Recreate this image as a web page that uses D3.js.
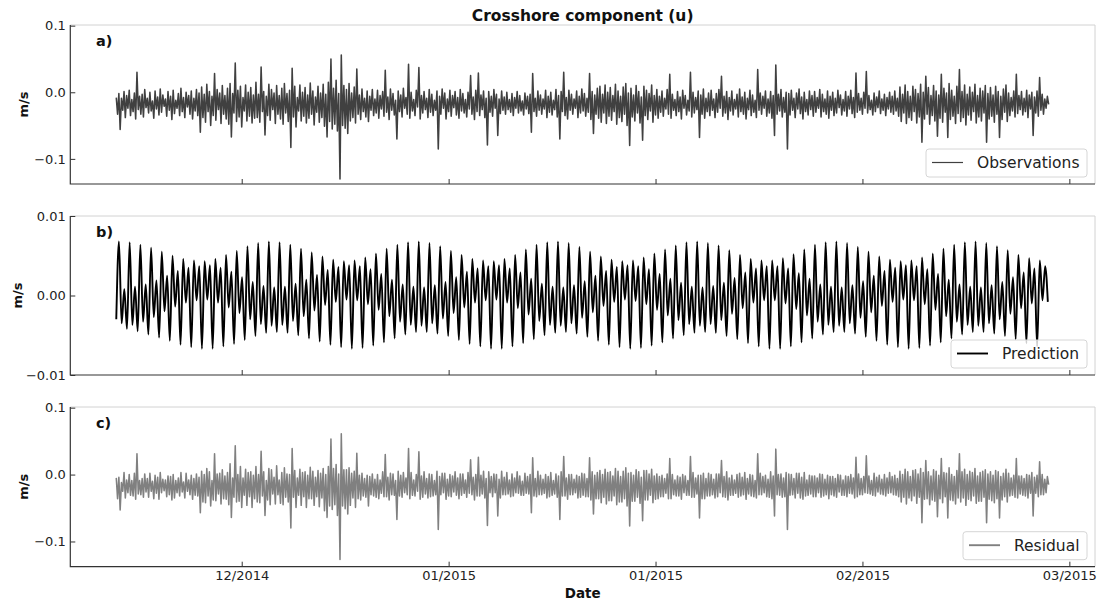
<!DOCTYPE html>
<html><head><meta charset="utf-8">
<script src="https://cdn.jsdelivr.net/npm/d3@7"></script>
<style>
body{margin:0;background:#fff;}
text{font-family:"DejaVu Sans",sans-serif;}
</style></head><body><svg id="chart" width="1102" height="604"></svg>
<script>
// ---------------- DATA ----------------
const chartTitle = "Crosshore component (u)";
const xLabel = "Date";
const yLabel = "m/s";
const seriesNames = ["Observations", "Prediction", "Residual"];
const panelLetters = ["a)", "b)", "c)"];

// observations / residual: samples every 3 h, in mm/s
const obsStart = "2014-11-29T21:00:00Z";
const obsStepHours = 3;
const observations = [
-8,-33,-2,-56,-9,-27,1,-38,-5,-24,3,-35,-11,-29,-1,-40,30,-26,-6,-33,
-3,-37,4,-23,-9,-31,0,-28,-13,-39,2,-25,-7,-34,5,-30,-4,-21,-10,-36,
1,-27,-6,-41,3,-32,-12,-24,-2,-35,6,-29,-8,-38,0,-22,-5,-33,2,-40,
-9,-28,4,-35,-1,-60,8,-38,-3,-45,12,-29,1,-50,-6,-35,28,-42,4,-26,
-1,-47,10,-33,-5,-40,6,-48,13,-67,-2,-31,44,-44,3,-37,9,-52,-8,-28,
11,-43,0,-36,7,-46,-4,-39,15,-38,-3,-45,38,-29,1,-64,-6,-35,12,-42,
4,-26,-1,-47,10,-33,-5,-40,6,-48,13,-31,-2,-44,3,-83,36,-37,9,-52,
-8,-28,11,-43,0,-36,7,-46,-4,-39,14,-33,2,-49,-7,-30,9,-45,-1,-38,
12,-51,-3,-67,15,-44,50,-55,6,-48,18,-58,-2,-130,56,-50,10,-54,4,-62,
13,-43,-1,-38,8,-46,35,-33,-4,-41,5,-29,-9,-37,2,-44,-6,-27,4,-35,
-10,-31,3,-39,-5,-25,1,-36,33,-30,-7,-41,5,-27,-2,-34,-12,-70,2,-29,
-4,-37,6,-24,-8,-33,42,-39,0,-28,-11,-35,3,-22,37,-40,-5,-31,1,-26,
-9,-38,4,-30,-3,-35,-12,-27,2,-85,-6,-33,5,-24,-1,-40,-10,-29,3,-36,
-5,-23,1,-34,-8,-39,4,-28,-2,-31,-11,-37,0,-25,25,-33,-7,-41,3,-29,
29,-35,-4,-26,2,-38,-9,-79,1,-30,-6,-36,4,-24,-3,-65,-10,-32,2,-27,
-7,-33,0,-26,-11,-30,-2,-35,-8,-24,1,-31,-5,-28,-13,-34,-1,-25,-6,-32,
-3,-60,28,-29,-9,-36,2,-27,-4,-33,-10,-25,3,-38,-6,-30,0,-34,-12,-26,
4,-37,-5,-70,1,-29,30,-35,-8,-40,3,-27,-3,-33,-10,-24,2,-38,-6,-31,
5,-28,-2,-36,-9,-30,28,-41,1,-62,-4,-33,6,-39,9,-45,-3,-31,11,-47,
0,-36,7,-42,-5,-29,12,-48,2,-38,-6,-44,8,-33,13,-50,-1,-80,6,-37,
-4,-43,10,-31,1,-46,-7,-72,9,-35,3,-41,-2,-28,11,-45,-5,-34,4,-39,
-6,-30,2,-36,-9,-25,4,-33,27,-39,-3,-27,-11,-35,1,-29,-7,-40,3,-24,
-5,-34,-12,-28,30,-37,0,-31,-8,-26,2,-68,-4,-33,5,-39,-9,-29,-1,-35,
3,-27,-10,-38,-2,-30,4,-24,24,-36,-6,-31,1,-41,-8,-28,2,-34,-11,-25,
-3,-37,5,-29,-7,-33,0,-40,-9,-26,3,-35,-4,-30,-12,-38,34,-27,-1,-33,
-6,-24,2,-36,-10,-31,1,-39,-5,-65,41,-33,-3,-28,4,-37,-8,-30,0,-85,
-2,-34,3,-27,-9,-38,-1,-25,5,-32,-7,-40,0,-29,-11,-34,2,-26,-5,-36,
1,-30,-8,-24,4,-37,-3,-29,-10,-33,2,-39,-6,-27,0,-35,-9,-31,3,-23,
-4,-34,-11,-28,1,-36,-6,-25,3,-32,-8,-38,29,-30,-2,-27,-9,-33,0,-24,
31,-31,-5,-26,-12,-34,-1,-29,-7,-23,2,-32,-10,-27,-3,-35,-8,-25,0,-30,
-6,-33,2,-28,-9,-36,8,-44,-3,-31,11,-47,1,-38,-6,-42,9,-29,4,-46,
-2,-37,12,-75,0,-40,24,-33,7,-48,-5,-35,10,-43,2,-66,-4,-39,27,-45,
6,-30,-1,-68,13,-41,3,-36,-6,-47,9,-32,34,-44,1,-38,11,-49,-3,-34,
8,-42,0,-29,12,-46,-5,-37,6,-43,2,-31,10,-75,-2,-40,7,-36,-4,-45,
9,-33,1,-68,-6,-41,5,-30,11,-44,-1,-35,-8,-28,2,-37,27,-32,-5,-26,
1,-34,-9,-29,3,-38,-4,-25,0,-65,-7,-31,2,-36,22,-27,-3,-33,-10,-24,
-6,-18
];
const residual = [
-5,-36,-4,-53,-12,-25,3,-35,-8,-27,0,-31,-9,-32,2,-37,31,-29,-9,-30,
-6,-34,1,-26,-6,-34,2,-25,-10,-36,-1,-28,-4,-37,3,-27,-7,-24,-8,-33,
-2,-30,-3,-38,0,-35,-9,-27,-5,-32,3,-26,-11,-35,2,-25,-8,-30,-1,-37,
-6,-31,1,-32,-4,-57,5,-41,0,-42,9,-32,4,-47,-9,-38,31,-39,1,-29,
2,-44,7,-36,-2,-37,3,-45,16,-64,-5,-34,43,-41,0,-40,12,-49,-5,-31,
8,-46,3,-33,4,-49,-1,-36,12,-41,0,-42,35,-32,4,-61,-9,-38,9,-45,
7,-29,-4,-44,13,-30,-8,-43,3,-45,10,-34,1,-41,0,-80,39,-34,6,-49,
-5,-31,8,-46,3,-33,4,-49,-1,-36,11,-36,5,-46,-4,-33,6,-48,2,-35,
9,-54,0,-64,12,-47,53,-52,9,-45,15,-61,1,-127,61,-47,7,-51,7,-59,
10,-46,2,-35,5,-49,32,-36,-1,-38,2,-32,-6,-34,-1,-47,-3,-30,1,-32,
-7,-34,0,-36,-8,-28,4,-33,30,-33,-4,-38,2,-30,1,-31,-9,-67,5,-32,
-1,-34,3,-27,-5,-30,39,-36,3,-31,-8,-32,0,-25,34,-37,-2,-34,4,-29,
-6,-35,1,-33,0,-32,-9,-30,5,-82,-3,-30,2,-27,2,-37,-7,-32,0,-33,
-2,-26,4,-31,-5,-36,1,-31,1,-28,-8,-34,3,-28,22,-30,-4,-38,0,-32,
26,-32,-1,-29,5,-35,-6,-76,4,-27,-3,-33,1,-27,0,-62,-7,-35,5,-30,
-4,-30,3,-29,-8,-33,1,-32,-5,-27,4,-28,-2,-31,-10,-31,2,-28,-3,-29,
0,-57,25,-32,-6,-33,5,-30,-1,-30,-7,-28,0,-35,-3,-33,3,-31,-9,-29,
1,-34,-2,-67,4,-32,27,-32,-5,-37,0,-30,0,-30,-7,-27,-1,-35,-3,-34,
2,-31,1,-33,-6,-33,25,-38,4,-59,-1,-36,3,-36,6,-42,0,-34,8,-44,
3,-39,4,-39,-2,-32,9,-45,5,-41,-3,-41,5,-36,10,-47,2,-77,3,-40,
-1,-40,7,-34,4,-43,-4,-69,6,-38,6,-38,1,-31,8,-42,-2,-37,1,-36,
-3,-33,-1,-33,-6,-28,1,-36,24,-36,0,-30,-8,-32,-2,-32,-4,-37,0,-27,
-2,-31,-9,-31,27,-34,3,-34,-5,-29,-1,-65,-1,-36,2,-36,-6,-32,2,-32,
0,-30,-7,-35,1,-33,1,-27,21,-33,-3,-34,4,-38,-5,-31,-1,-31,-8,-28,
0,-34,2,-32,-4,-30,3,-37,-6,-29,0,-32,-1,-33,-9,-35,31,-30,2,-30,
-3,-27,-1,-33,-7,-34,4,-36,-2,-62,38,-30,0,-31,1,-34,-5,-33,3,-82,
1,-31,0,-30,-6,-35,2,-28,2,-35,-4,-37,3,-32,-8,-31,-1,-29,-2,-33,
-2,-33,-5,-27,1,-34,0,-32,-7,-30,-1,-36,-3,-30,-3,-32,-6,-34,0,-26,
-1,-31,-8,-31,-2,-33,-3,-28,0,-29,-5,-35,26,-33,1,-30,-6,-30,-3,-27,
28,-28,-2,-29,-9,-31,2,-32,-4,-26,-1,-29,-7,-30,0,-32,-5,-28,3,-27,
-3,-30,-1,-31,-6,-33,5,-41,0,-34,8,-44,4,-35,-3,-39,6,-32,7,-43,
1,-34,9,-72,3,-37,21,-36,4,-45,-2,-38,7,-40,5,-63,-1,-36,24,-42,
3,-33,2,-65,10,-38,0,-39,-3,-44,6,-35,31,-41,4,-35,8,-46,0,-37,
5,-39,3,-32,9,-43,-2,-40,3,-40,5,-34,7,-72,1,-37,4,-39,-1,-42,
6,-36,4,-65,-3,-38,2,-33,8,-41,2,-32,-5,-31,-1,-34,24,-35,-2,-29,
-2,-31,-6,-32,0,-35,-1,-28,3,-62,-4,-28,-1,-33,19,-30,0,-30,-7,-27,
-3,-15
];

// prediction: successive extremes (every quarter lunar day), in mm/s
const predStart = "2014-11-29T21:00:00Z";
const predStepHours = 6.21;
const prediction = [
-3.0,
6.8,-3.5,0.8,-4.2, 6.7,-3.7,1.1,-4.5, 6.4,-3.3,1.4,-4.9, 6.0,-2.7,1.9,-5.3,
5.5,-2.0,2.5,-5.7, 5.0,-1.4,3.1,-6.2, 4.6,-0.9,3.5,-6.5, 4.4,-0.6,3.7,-6.7,
4.3,-0.5,3.8,-6.7, 4.6,-0.9,3.5,-6.4, 5.1,-1.5,3.0,-6.1, 5.6,-2.2,2.3,-5.6,
6.2,-3.0,1.7,-5.1, 6.6,-3.6,1.2,-4.7, 6.8,-3.8,1.0,-4.6, 6.7,-3.7,1.1,-4.7,
6.4,-3.2,1.5,-5.0, 5.9,-2.6,2.0,-5.4, 5.4,-1.9,2.6,-5.8, 4.9,-1.2,3.2,-6.2,
4.5,-0.8,3.6,-6.5, 4.3,-0.5,3.8,-6.7, 4.4,-0.6,3.7,-6.6, 4.8,-1.1,3.3,-6.3,
5.3,-1.8,2.7,-5.9, 5.9,-2.6,2.0,-5.4, 6.4,-3.3,1.4,-4.9, 6.7,-3.7,1.1,-4.6,
6.8,-3.8,1.0,-4.6, 6.6,-3.5,1.3,-4.8, 6.2,-2.9,1.7,-5.1, 5.6,-2.2,2.3,-5.6,
5.1,-1.5,3.0,-6.1, 4.6,-0.9,3.4,-6.4, 4.4,-0.6,3.7,-6.7, 4.3,-0.5,3.8,-6.7,
4.6,-0.9,3.4,-6.4, 5.1,-1.6,2.9,-6.0, 5.8,-2.4,2.1,-5.5, 6.4,-3.2,1.5,-5.0,
6.7,-3.7,1.1,-4.7, 6.8,-3.8,1.0,-4.6, 6.6,-3.5,1.3,-4.8, 6.1,-2.8,1.8,-5.2,
5.5,-2.1,2.5,-5.7, 4.9,-1.3,3.1,-6.2, 4.5,-0.8,3.6,-6.5, 4.3,-0.5,3.8,-6.7,
4.4,-0.7,3.7,-6.6, 4.8,-1.1,3.3,-6.3, 5.3,-1.8,2.7,-5.9, 5.8,-2.5,2.1,-5.4,
6.3,-3.1,1.6,-5.0, 6.7,-3.6,1.1,-4.7, 6.8,-3.8,1.0,-4.6, 6.6,-3.6,1.2,-4.7,
6.3,-3.1,1.6,-5.1, 5.7,-2.3,2.2,-5.5, 5.1,-1.6,2.9,-6.0, 4.6,-0.9,3.4,-6.4,
4.4,-0.6,3.7,-6.7, 4.4,-0.6,3.7,-6.7, 4.7,-1.0,3.4,-6.4, 5.2,-1.7,2.8,-5.9,
5.8,-2.5,2.1,-5.4, 6.4,-3.3,1.4,-4.9, 6.7,-3.7,1.1,-4.6, 6.8,-3.8,1.0,-4.6,
6.6,-3.5,1.3,-4.8, 6.1,-2.8,1.8,-5.2, 5.5,-2.1,2.5,-5.7, 4.9,-1.3,3.1,-6.2,
4.5,-0.8,3.5,-6.5, 4.3,-0.5,3.8,-6.7, 4.4,-0.6,3.7,-6.6, 4.8,-1.1,3.3,-6.3,
5.3,-1.8,2.7,-5.9, 5.9,-2.6,2.0,-5.4, 6.4,-3.3,1.4,-4.9, 6.7,-3.7,1.1,-4.6,
6.8,-3.8,1.0,-4.6, 6.6,-3.5,1.3,-4.8, 6.2,-3.0,1.7,-5.1, 5.7,-2.3,2.3,-5.5,
5.1,-1.6,2.9,-6.0, 4.7,-1.0,3.4,-6.4, 4.4,-0.6,3.7,-0.8
];

const xTickDates = ["2014-12-12", "2015-01-01", "2015-01-21", "2015-02-10", "2015-03-02"];
const xDomainDates = ["2014-11-25T10:20:00Z", "2015-03-04T11:30:00Z"];
const yTicksUV = [-0.1, 0.0, 0.1];
const yTicksPred = [-0.01, 0.0, 0.01];
const yDomainUV = [-0.1377, 0.101];
const yDomainPred = [-0.01, 0.01];

// ---------------- DRAW ----------------
const svg = d3.select("#chart");
const left = 70.3, right = 1095;

const x = d3.scaleUtc()
  .domain(xDomainDates.map(d => new Date(d)))
  .range([left, right]);

function toSeries(start, stepH, vals) {
  const t0 = new Date(start).getTime();
  return vals.map((v, i) => ({ t: new Date(t0 + i * stepH * 3600e3), v: v / 1000 }));
}

const panels = [
  { top: 25, bottom: 184, yDomain: yDomainUV, yTicks: yTicksUV, fmt: d3.format(".1f"),
    data: toSeries(obsStart, obsStepHours, observations), color: "#404040", lw: 1.55,
    curve: d3.curveLinear, name: seriesNames[0], letter: panelLetters[0], labelX: 28,
    legW: 161, legLineW: 1.2, showX: false },
  { top: 216, bottom: 375, yDomain: yDomainPred, yTicks: yTicksPred, fmt: d3.format(".2f"),
    data: toSeries(predStart, predStepHours, prediction), color: "#000000", lw: 1.9,
    curve: d3.curveMonotoneX, name: seriesNames[1], letter: panelLetters[1], labelX: 22,
    legW: 136, legLineW: 1.9, showX: false },
  { top: 407, bottom: 566.7, yDomain: yDomainUV, yTicks: yTicksUV, fmt: d3.format(".1f"),
    data: toSeries(obsStart, obsStepHours, residual), color: "#808080", lw: 1.55,
    curve: d3.curveLinear, name: seriesNames[2], letter: panelLetters[2], labelX: 28,
    legW: 124, legLineW: 1.9, showX: true }
];

panels.forEach((p, pi) => {
  const y = d3.scaleLinear().domain(p.yDomain).range([p.bottom, p.top]);
  const g = svg.append("g");

  g.append("clipPath").attr("id", "clip" + pi)
    .append("rect").attr("x", left).attr("y", p.top)
    .attr("width", right - left).attr("height", p.bottom - p.top);

  g.append("path")
    .attr("d", `M${left},${p.top}H${right}V${p.bottom}`)
    .attr("fill", "none").attr("stroke", "#d2d2d2").attr("stroke-width", 1);

  const line = d3.line().x(d => x(d.t)).y(d => y(d.v)).curve(p.curve);
  g.append("path").datum(p.data)
    .attr("clip-path", `url(#clip${pi})`)
    .attr("d", line)
    .attr("fill", "none").attr("stroke", p.color)
    .attr("stroke-width", p.lw).attr("stroke-linejoin", "round");

  const ya = d3.axisLeft(y).tickValues(p.yTicks).tickFormat(p.fmt)
    .tickSize(-5).tickPadding(4.5);
  const yg = g.append("g").attr("transform", `translate(${left},0)`).call(ya);
  yg.select(".domain").remove();
  yg.selectAll(".tick line").attr("stroke", "#333");
  yg.selectAll(".tick text").attr("fill", "#222").style("font-size", "13px")
    .style("font-family", "'DejaVu Sans', sans-serif");

  const xa = d3.axisBottom(x).tickValues(xTickDates.map(d => new Date(d + "T00:00:00Z")))
    .tickFormat(p.showX ? d3.utcFormat("%m/%Y") : () => "")
    .tickSize(-5).tickPadding(4);
  const xg = g.append("g").attr("transform", `translate(0,${p.bottom})`).call(xa);
  xg.select(".domain").remove();
  xg.selectAll(".tick line").attr("stroke", "#333");
  xg.selectAll(".tick text").attr("fill", "#222").style("font-size", "13px")
    .style("font-family", "'DejaVu Sans', sans-serif");

  g.append("path")
    .attr("d", `M${left},${p.top}V${p.bottom}H${right}`)
    .attr("fill", "none").attr("stroke", "#333").attr("stroke-width", 1.2);

  g.append("text").attr("x", 96).attr("y", p.top + 21)
    .attr("font-weight", "bold").attr("font-size", 14.5).attr("fill", "#111")
    .text(p.letter);

  g.append("text")
    .attr("transform", `translate(${p.labelX},${(p.top + p.bottom) / 2}) rotate(-90)`)
    .attr("text-anchor", "middle").attr("font-weight", "bold").attr("font-size", 13)
    .attr("fill", "#111").text(yLabel);

  const lx = right - 8 - p.legW, ly = p.bottom - 7 - 28;
  const lg = g.append("g");
  lg.append("rect").attr("x", lx).attr("y", ly).attr("width", p.legW).attr("height", 28)
    .attr("rx", 3).attr("fill", "#fff").attr("fill-opacity", 0.8)
    .attr("stroke", "#d6d6d6").attr("stroke-width", 1);
  lg.append("line").attr("x1", lx + 6).attr("x2", lx + 37)
    .attr("y1", ly + 13.5).attr("y2", ly + 13.5)
    .attr("stroke", p.color).attr("stroke-width", p.legLineW);
  lg.append("text").attr("x", lx + 51).attr("y", ly + 19)
    .attr("font-size", 15.5).attr("fill", "#222").text(p.name);
});

svg.append("text").attr("x", (left + right) / 2).attr("y", 20.5)
  .attr("text-anchor", "middle").attr("font-weight", "bold").attr("font-size", 15.5)
  .attr("fill", "#111").text(chartTitle);
svg.append("text").attr("x", (left + right) / 2).attr("y", 598)
  .attr("text-anchor", "middle").attr("font-weight", "bold").attr("font-size", 13.5)
  .attr("fill", "#111").text(xLabel);
</script></body></html>
